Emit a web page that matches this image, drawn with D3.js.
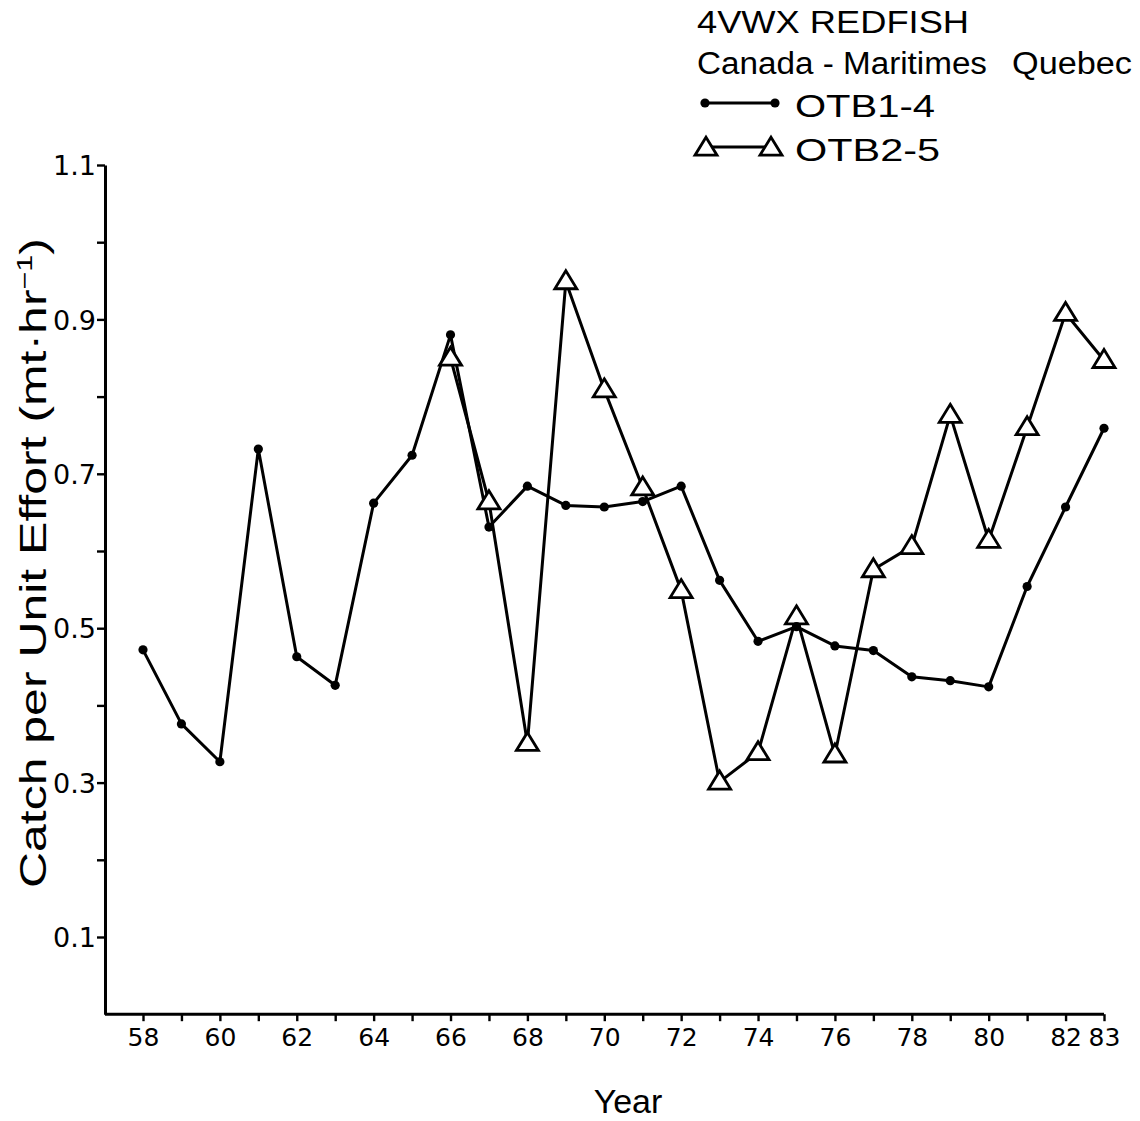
<!DOCTYPE html>
<html>
<head>
<meta charset="utf-8">
<script src="https://cdn.jsdelivr.net/npm/d3@7"></script>
<style>
  html, body { margin: 0; padding: 0; background: #fff; }
  svg text { font-family: "Liberation Sans", Arial, sans-serif; fill: #000; }
</style>
</head>
<body>
<svg id="chart" width="1140" height="1121"></svg>
<script>
// Year (two-digit) for each observation
const years = [58, 59, 60, 61, 62, 63, 64, 65, 66, 67, 68, 69, 70, 71, 72, 73, 74, 75, 76, 77, 78, 79, 80, 81, 82, 83];

// Canada-Maritimes, OTB 1-4 catch per unit effort (t/hr)
const otb14 = [0.472, 0.376, 0.327, 0.732, 0.463, 0.426, 0.662, 0.724, 0.880, 0.631,
               0.684, 0.659, 0.657, 0.664, 0.684, 0.562, 0.483, 0.502, 0.477, 0.471,
               0.437, 0.432, 0.424, 0.554, 0.657, 0.759];

// Quebec, OTB 2-5 catch per unit effort (t/hr), series begins in 1966
const otb25Years = [66, 67, 68, 69, 70, 71, 72, 73, 74, 75, 76, 77, 78, 79, 80, 81, 82, 83];
const otb25 = [0.850, 0.664, 0.351, 0.949, 0.809, 0.682, 0.549, 0.301, 0.339, 0.515,
               0.336, 0.576, 0.606, 0.776, 0.614, 0.760, 0.908, 0.847];

// Axis ticks
const yMajorTicks = [0.1, 0.3, 0.5, 0.7, 0.9, 1.1];
const yMinorTicks = [0.2, 0.4, 0.6, 0.8, 1.0];
const xTickLabels = [58, 60, 62, 64, 66, 68, 70, 72, 74, 76, 78, 80, 82, 83];

// Legend text
const titleText = "4VWX REDFISH";
const agencyNames = ["Canada - Maritimes", "Quebec"];
const seriesNames = ["OTB1-4", "OTB2-5"];

const svg = d3.select("#chart");

const axisX = 105;   // position of the vertical axis
const x = d3.scaleLinear().domain([58, 83]).range([143, 1104]);
const y = d3.scaleLinear().domain([0, 1.1]).range([1014.2, 165]);

const ink = "#000";
const lw = 3;
const tickFont = "'DejaVu Sans', Verdana, sans-serif";

// ---- Y axis ----
const yAxisG = svg.append("g").attr("transform", `translate(${axisX},0)`);
yAxisG.call(d3.axisLeft(y).tickValues(yMajorTicks).tickSize(8).tickSizeOuter(0)
  .tickPadding(1).tickFormat(d3.format(".1f")));
yAxisG.append("g").call(d3.axisLeft(y).tickValues(yMinorTicks).tickSize(8).tickFormat(""))
  .select(".domain").remove();
yAxisG.selectAll(".domain").attr("stroke", ink).attr("stroke-width", lw);
yAxisG.selectAll(".tick line").attr("stroke", ink).attr("stroke-width", 2.4);
yAxisG.selectAll(".tick text").style("font-size", "27px").attr("dy", "0.36em")
  .style("font-family", tickFont);

// ---- X axis ----
const xAxisG = svg.append("g").attr("transform", `translate(0,${y(0)})`);
xAxisG.call(d3.axisBottom(x).tickValues(years).tickSize(7).tickSizeOuter(0).tickPadding(7)
  .tickFormat(d => xTickLabels.includes(d) ? String(d) : ""));
xAxisG.select(".domain").remove();
xAxisG.append("line")
  .attr("x1", axisX).attr("x2", x(83))
  .attr("stroke", ink).attr("stroke-width", lw);
xAxisG.selectAll(".tick line").attr("stroke", ink).attr("stroke-width", 2.4);
xAxisG.selectAll(".tick text").style("font-size", "25px")
  .style("font-family", tickFont);

// ---- Axis titles ----
svg.append("text")
  .attr("x", 628).attr("y", 1113)
  .attr("text-anchor", "middle")
  .attr("font-size", 34)
  .text("Year");

const yTitle = svg.append("text")
  .attr("transform", "translate(46,563) rotate(-90)")
  .attr("text-anchor", "middle")
  .attr("font-size", 36)
  .attr("textLength", 650)
  .attr("lengthAdjust", "spacingAndGlyphs");
yTitle.append("tspan").text("Catch per Unit Effort (mt\u00B7hr");
yTitle.append("tspan").attr("font-size", 22).attr("dy", -14).text("\u22121");
yTitle.append("tspan").attr("dy", 14).text(")");

// ---- Series ----
const dotData = years.map((yr, i) => ({ yr, v: otb14[i] }));
const triData = otb25Years.map((yr, i) => ({ yr, v: otb25[i] }));

const line = d3.line().x(d => x(d.yr)).y(d => y(d.v));

// Triangle marker path centred on (0,0)
const triW = 22, triH = 18;
const triPath = `M0,${-triH * 0.6}L${triW / 2},${triH * 0.4}L${-triW / 2},${triH * 0.4}Z`;

svg.append("path").datum(dotData).attr("d", line)
  .attr("fill", "none").attr("stroke", ink).attr("stroke-width", lw).attr("stroke-linejoin", "round");
svg.append("path").datum(triData).attr("d", line)
  .attr("fill", "none").attr("stroke", ink).attr("stroke-width", lw).attr("stroke-linejoin", "round");

svg.append("g").selectAll("path").data(triData).join("path")
  .attr("d", triPath)
  .attr("transform", d => `translate(${x(d.yr)},${y(d.v)})`)
  .attr("fill", "#fff").attr("stroke", ink).attr("stroke-width", 2.8).attr("stroke-linejoin", "miter");

svg.append("g").selectAll("circle").data(dotData).join("circle")
  .attr("cx", d => x(d.yr)).attr("cy", d => y(d.v)).attr("r", 4.6)
  .attr("fill", ink);

// ---- Legend ----
const lg = svg.append("g");
lg.append("text").attr("x", 697).attr("y", 33).attr("font-size", 31)
  .attr("textLength", 272).attr("lengthAdjust", "spacingAndGlyphs").text(titleText);
lg.append("text").attr("x", 697).attr("y", 74).attr("font-size", 31)
  .attr("textLength", 290).attr("lengthAdjust", "spacingAndGlyphs").text(agencyNames[0]);
lg.append("text").attr("x", 1012).attr("y", 74).attr("font-size", 31)
  .attr("textLength", 120).attr("lengthAdjust", "spacingAndGlyphs").text(agencyNames[1]);

// Dot-line key
lg.append("line").attr("x1", 705).attr("x2", 775).attr("y1", 103).attr("y2", 103)
  .attr("stroke", ink).attr("stroke-width", lw);
lg.selectAll("circle.key").data([705, 775]).join("circle").attr("class", "key")
  .attr("cx", d => d).attr("cy", 103).attr("r", 4.6).attr("fill", ink);
lg.append("text").attr("x", 795).attr("y", 117).attr("font-size", 31)
  .attr("textLength", 140).attr("lengthAdjust", "spacingAndGlyphs").text(seriesNames[0]);

// Triangle-line key
lg.append("line").attr("x1", 706).attr("x2", 771).attr("y1", 147).attr("y2", 147)
  .attr("stroke", ink).attr("stroke-width", lw);
lg.selectAll("path.key").data([706, 771]).join("path").attr("class", "key")
  .attr("d", triPath)
  .attr("transform", d => `translate(${d},${148})`)
  .attr("fill", "#fff").attr("stroke", ink).attr("stroke-width", 2.8);
lg.append("text").attr("x", 795).attr("y", 161).attr("font-size", 31)
  .attr("textLength", 145).attr("lengthAdjust", "spacingAndGlyphs").text(seriesNames[1]);
</script>
</body>
</html>
